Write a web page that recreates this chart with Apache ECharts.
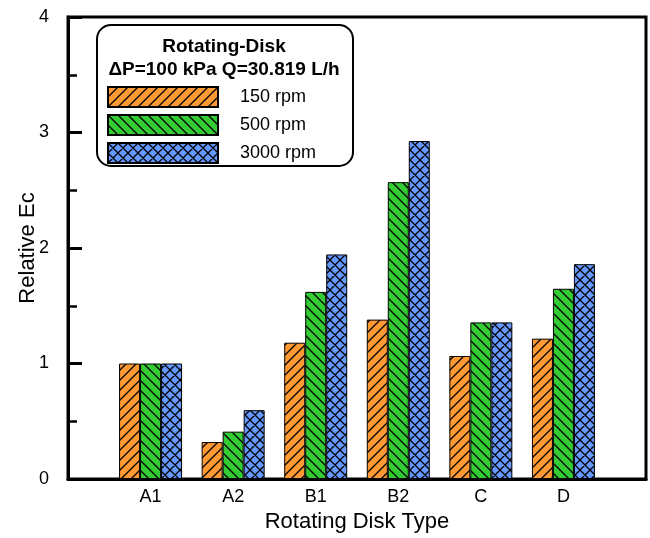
<!DOCTYPE html>
<html>
<head>
<meta charset="utf-8">
<script src="https://cdn.jsdelivr.net/npm/echarts@6/dist/echarts.min.js"></script>
<style>
  html, body { margin: 0; padding: 0; background: #fff; }
  #main { width: 650px; height: 538px; }
</style>
</head>
<body>
<div id="main"></div>
<script>
// categories padded with blanks so bars sit at slots 1..6 of 0..7
var categories = ['', 'A1', 'A2', 'B1', 'B2', 'C', 'D', ''];
var rpm150 = ['-', 1.0, 0.32, 1.18, 1.38, 1.065, 1.215, '-'];
var rpm500 = ['-', 1.0, 0.41, 1.62, 2.57, 1.356, 1.647, '-'];
var rpm3000 = ['-', 1.0, 0.596, 1.944, 2.926, 1.356, 1.86, '-'];
var seriesNames = ['150 rpm', '500 rpm', '3000 rpm'];
var yTicks = [0, 1, 2, 3, 4];

var font = 'Liberation Sans, Arial, sans-serif';

// hatch fills drawn on small canvases
function makePattern(fill, kind) {
    var s = 10;
    var c = document.createElement('canvas');
    c.width = s; c.height = s;
    var ctx = c.getContext('2d');
    ctx.fillStyle = fill;
    ctx.fillRect(0, 0, s, s);
    ctx.strokeStyle = '#000';
    ctx.lineWidth = 1.3;
    ctx.beginPath();
    if (kind === 'fwd' || kind === 'cross') {
        ctx.moveTo(-2, s + 2); ctx.lineTo(s + 2, -2);
        ctx.moveTo(-2, 2); ctx.lineTo(2, -2);
        ctx.moveTo(s - 2, s + 2); ctx.lineTo(s + 2, s - 2);
    }
    if (kind === 'back' || kind === 'cross') {
        ctx.moveTo(-2, -2); ctx.lineTo(s + 2, s + 2);
        ctx.moveTo(s - 2, -2); ctx.lineTo(s + 2, 2);
        ctx.moveTo(-2, s - 2); ctx.lineTo(2, s + 2);
    }
    ctx.stroke();
    return { image: c, repeat: 'repeat' };
}

var fills = [
    makePattern('#ff9933', 'fwd'),
    makePattern('#33cc33', 'back'),
    makePattern('#6699ff', 'cross')
];
var values = [rpm150, rpm500, rpm3000];

var myChart = echarts.init(document.getElementById('main'));

var series = [];
for (var i = 0; i < 3; i++) {
    series.push({
        name: seriesNames[i],
        type: 'bar',
        data: values[i],
        barWidth: 21,
        barGap: '0%',
        itemStyle: { color: fills[i], borderColor: '#000', borderWidth: 1 }
    });
}

var option = {
    animation: false,
    textStyle: { fontFamily: font },
    grid: {
        left: 68, right: 4, top: 17, bottom: 58,
        show: true, borderColor: '#000', borderWidth: 3, backgroundColor: 'transparent'
    },
    legend: {
        orient: 'vertical',
        left: 107, top: 86,
        padding: 0,
        itemWidth: 110, itemHeight: 20, itemGap: 6,
        icon: 'rect',
        data: seriesNames,
        textStyle: { fontSize: 18, color: '#000', fontFamily: font, padding: [0, 0, 0, 17] }
    },
    graphic: [
        {
            type: 'rect', left: 96, top: 24, z: 0,
            shape: { width: 256, height: 141, r: 14 },
            style: { fill: '#fff', stroke: '#000', lineWidth: 2 }
        },
        {
            type: 'text', x: 224, y: 37, z: 10,
            style: { text: 'Rotating-Disk', font: 'bold 19px ' + font, fill: '#000', textAlign: 'center' }
        },
        {
            type: 'text', x: 224, y: 60, z: 10,
            style: { text: '\u0394P=100 kPa Q=30.819 L/h', font: 'bold 19px ' + font, fill: '#000', textAlign: 'center' }
        }
    ],
    xAxis: {
        type: 'category',
        data: categories,
        boundaryGap: false,
        name: 'Rotating Disk Type',
        nameLocation: 'middle',
        nameGap: 32,
        nameMoveOverlap: false,
        nameTextStyle: { fontSize: 22, color: '#000' },
        axisLine: { lineStyle: { color: '#000', width: 3 } },
        axisTick: { show: false },
        axisLabel: { interval: 0, fontSize: 18, color: '#000', margin: 9 },
        splitLine: { show: false }
    },
    yAxis: {
        type: 'value',
        min: yTicks[0], max: yTicks[yTicks.length - 1], interval: 1,
        name: 'Relative Ec',
        nameLocation: 'middle',
        nameGap: 29,
        nameMoveOverlap: false,
        nameTextStyle: { fontSize: 22, color: '#000' },
        axisLine: { show: true, lineStyle: { color: '#000', width: 3 } },
        axisTick: { show: true, inside: true, length: 14, lineStyle: { color: '#000', width: 3 } },
        minorTick: { show: true, splitNumber: 2, length: 9, lineStyle: { color: '#000', width: 2.5 } },
        axisLabel: { fontSize: 18, color: '#000', margin: 19 },
        splitLine: { show: false }
    },
    series: series
};
myChart.setOption(option);
</script>
</body>
</html>
